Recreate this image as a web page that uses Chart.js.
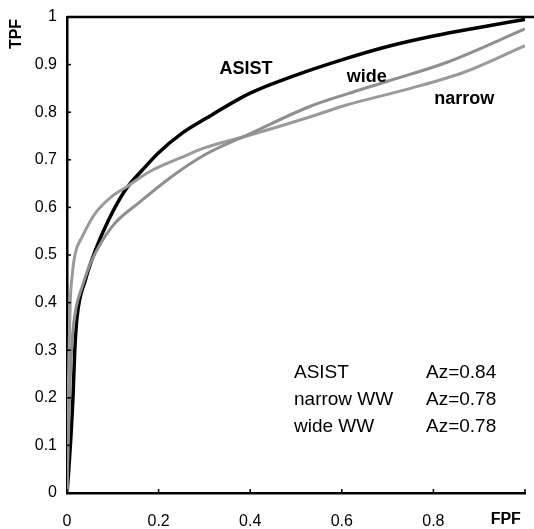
<!DOCTYPE html>
<html lang="en">
<head>
    <meta charset="UTF-8">
    <title>ROC curves</title>
    <script src="https://cdn.jsdelivr.net/npm/chart.js"></script>
    <style>
        html, body {
            margin: 0;
            padding: 0;
            background: #fff;
        }
        .chart-wrapper {
            width: 534px;
            height: 529px;
        }
    </style>
</head>
<body>
    <div class="chart-wrapper">
        <canvas id="rocChart"></canvas>
    </div>

    <script>
        // ROC points (FPF, TPF)
        const asistFpf = [0, 0.004, 0.008, 0.013, 0.017, 0.022, 0.04, 0.062, 0.091, 0.127, 0.164, 0.2, 0.25, 0.3, 0.4, 0.5, 0.6, 0.7, 0.8, 0.9, 1];
        const asistTpf = [0, 0.05, 0.11, 0.2, 0.3, 0.37, 0.447, 0.51, 0.574, 0.636, 0.678, 0.715, 0.755, 0.785, 0.84, 0.878, 0.91, 0.938, 0.96, 0.978, 0.995];

        const narrowFpf = [0, 0.002, 0.004, 0.007, 0.011, 0.018, 0.033, 0.062, 0.098, 0.13, 0.18, 0.25, 0.3, 0.4, 0.53, 0.61, 0.75, 0.87, 1];
        const narrowTpf = [0, 0.15, 0.28, 0.4, 0.454, 0.503, 0.538, 0.588, 0.623, 0.643, 0.675, 0.705, 0.725, 0.752, 0.79, 0.815, 0.85, 0.885, 0.94];

        const wideFpf = [0, 0.003, 0.007, 0.012, 0.02, 0.033, 0.05, 0.069, 0.105, 0.156, 0.229, 0.3, 0.4, 0.53, 0.61, 0.7, 0.83, 1];
        const wideTpf = [0, 0.12, 0.24, 0.33, 0.39, 0.433, 0.48, 0.517, 0.567, 0.609, 0.665, 0.71, 0.755, 0.812, 0.838, 0.865, 0.905, 0.975];

        const xTicks = [0, 0.2, 0.4, 0.6, 0.8, 1];
        const yTicks = [0, 0.1, 0.2, 0.3, 0.4, 0.5, 0.6, 0.7, 0.8, 0.9, 1];

        const legendNames = ['ASIST', 'narrow WW', 'wide WW'];
        const legendAz = ['Az=0.84', 'Az=0.78', 'Az=0.78'];

        const FONT = '"Liberation Sans", Arial, sans-serif';

        function toPoints(xs, ys) {
            return xs.map((x, i) => ({ x: x, y: ys[i] }));
        }

        // frame, inside tick marks and text annotations
        const decorPlugin = {
            id: 'decor',
            afterDraw(chart) {
                const ctx = chart.ctx;
                const xs = chart.scales.x;
                const ys = chart.scales.y;
                const area = chart.chartArea;
                ctx.save();

                // top line at TPF = 1
                ctx.strokeStyle = '#000';
                ctx.lineWidth = 2.5;
                ctx.beginPath();
                ctx.moveTo(area.left, ys.getPixelForValue(1));
                ctx.lineTo(chart.width, ys.getPixelForValue(1));
                ctx.stroke();

                // small ticks inside the plot
                ctx.lineWidth = 1.5;
                yTicks.forEach(v => {
                    const py = ys.getPixelForValue(v);
                    ctx.beginPath();
                    ctx.moveTo(area.left, py);
                    ctx.lineTo(area.left + 4, py);
                    ctx.stroke();
                });
                xTicks.forEach(v => {
                    const px = xs.getPixelForValue(v);
                    ctx.beginPath();
                    ctx.moveTo(px, area.bottom);
                    ctx.lineTo(px, area.bottom - 4);
                    ctx.stroke();
                });

                ctx.fillStyle = '#000';
                ctx.textBaseline = 'middle';

                // axis names
                ctx.font = 'bold 16px ' + FONT;
                ctx.textAlign = 'left';
                ctx.fillText('FPF', xs.getPixelForValue(0.925), 520);
                ctx.save();
                ctx.translate(17, 34);
                ctx.rotate(-Math.PI / 2);
                ctx.textAlign = 'center';
                ctx.fillText('TPF', 0, 0);
                ctx.restore();

                // curve labels
                ctx.font = 'bold 18px ' + FONT;
                ctx.textAlign = 'left';
                ctx.fillText('ASIST', xs.getPixelForValue(0.333), ys.getPixelForValue(0.891));
                ctx.fillText('wide', xs.getPixelForValue(0.611), ys.getPixelForValue(0.874));
                ctx.fillText('narrow', xs.getPixelForValue(0.802), ys.getPixelForValue(0.828));

                // Az table
                ctx.font = '19px ' + FONT;
                legendNames.forEach((name, i) => {
                    const py = 373 + i * 27;
                    ctx.fillText(name, 294, py);
                    ctx.fillText(legendAz[i], 426, py);
                });

                ctx.restore();
            }
        };

        const lineStyle = {
            showLine: true,
            pointRadius: 0,
            borderWidth: 3,
            cubicInterpolationMode: 'monotone',
            fill: false
        };

        new Chart(document.getElementById('rocChart'), {
            type: 'scatter',
            data: {
                datasets: [
                    Object.assign({ label: 'wide', data: toPoints(wideFpf, wideTpf), borderColor: '#8f8f8f' }, lineStyle),
                    Object.assign({ label: 'narrow', data: toPoints(narrowFpf, narrowTpf), borderColor: '#9a9a9a' }, lineStyle),
                    Object.assign({}, lineStyle, { label: 'ASIST', data: toPoints(asistFpf, asistTpf), borderColor: '#000', borderWidth: 3.5 })
                ]
            },
            options: {
                responsive: true,
                maintainAspectRatio: false,
                animation: false,
                layout: { padding: { top: 17, right: 9, left: 0, bottom: 0 } },
                plugins: {
                    legend: { display: false },
                    tooltip: { enabled: false }
                },
                scales: {
                    x: {
                        type: 'linear',
                        min: 0,
                        max: 1,
                        afterFit: s => { s.height = 36; },
                        afterBuildTicks: s => { s.ticks = xTicks.map(v => ({ value: v })); },
                        // invisible tick marks only push the labels down
                        grid: { display: true, drawOnChartArea: false, drawTicks: true, tickLength: 19, color: 'rgba(0,0,0,0)' },
                        border: { color: '#000', width: 2.5 },
                        ticks: {
                            padding: 0,
                            maxRotation: 0,
                            color: '#000',
                            font: { family: FONT, size: 16 },
                            callback: v => (v === 1 ? '' : String(v))
                        }
                    },
                    y: {
                        type: 'linear',
                        min: 0,
                        max: 1,
                        afterFit: s => { s.width = 67; },
                        afterBuildTicks: s => { s.ticks = yTicks.map(v => ({ value: v })); },
                        grid: { display: true, drawOnChartArea: false, drawTicks: true, tickLength: 10, color: 'rgba(0,0,0,0)' },
                        border: { color: '#000', width: 2.5 },
                        ticks: {
                            padding: 0,
                            color: '#000',
                            font: { family: FONT, size: 16 },
                            callback: v => String(v)
                        }
                    }
                }
            },
            plugins: [decorPlugin]
        });
    </script>
</body>
</html>
